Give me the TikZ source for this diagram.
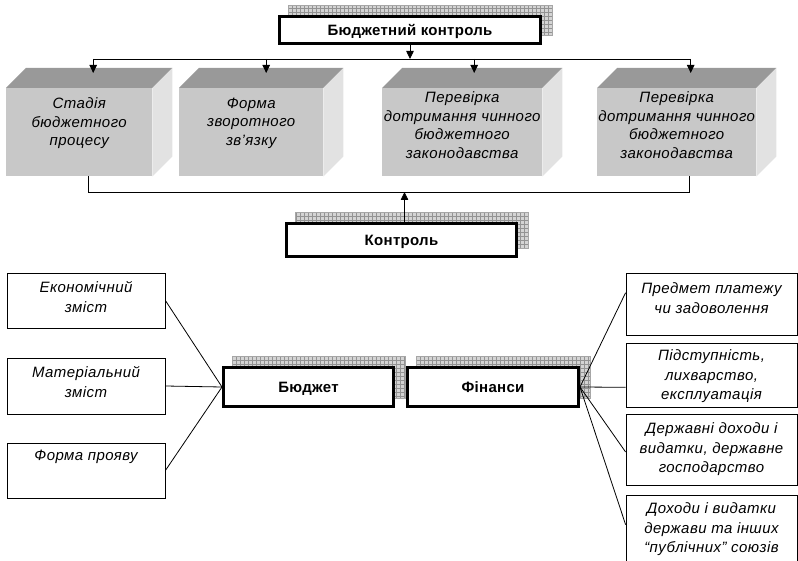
\documentclass[tikz,border=0pt]{standalone}
\usepackage{fontspec}
\setmainfont{Liberation Sans}
\newfontfamily\titlefont[LetterSpace=2]{Liberation Sans}
\newfontfamily\itfont[LetterSpace=3]{Liberation Sans}
\usetikzlibrary{arrows.meta,calc}
\definecolor{frontg}{RGB}{200,200,200}
\definecolor{topg}{RGB}{153,153,153}
\definecolor{sideg}{RGB}{226,226,226}
\definecolor{shadg}{RGB}{212,212,212}
\pgfdeclarelayer{bg}
\pgfsetlayers{bg,main}
\tikzset{
  arr/.style={-{Triangle[length=8pt,width=7.5pt]}, line width=0.8pt},
  conn/.style={line width=0.8pt},
  titlebox/.style={draw, line width=3pt, fill=white, font=\titlefont\fontsize{15}{17}\selectfont\bfseries, inner sep=0pt, text height=10.7pt, text depth=0pt},
  cubefront/.style={fill=frontg, anchor=north west, minimum height=88pt, inner sep=0pt},
  cubetext/.style={align=center, font=\itfont\fontsize{15}{18.5}\selectfont\itshape, inner sep=0pt},
  tbox/.style={draw, line width=0.8pt, inner sep=0pt},
  ttext/.style={align=center, anchor=north, font=\itfont\fontsize{15}{19.5}\selectfont\itshape, inner sep=0pt},
  shadowfill/.style={fill=shadg},
  shadowgrid/.style={draw=gray!85, line width=0.4pt},
}
\newcommand\boxshadow[1]{%
  \begin{pgfonlayer}{bg}
    \fill[shadowfill] ([shift={(10,-10)}]#1.south west) rectangle ([shift={(10,-10)}]#1.north east);
    \begin{scope}
      \clip ([shift={(10,-10)}]#1.south west) rectangle ([shift={(10,-10)}]#1.north east);
      \draw[shadowgrid, step=4pt] ([shift={(10,-10)}]#1.south west) grid ([shift={(10,-10)}]#1.north east);
    \end{scope}
    \draw[gray!70, line width=0.4pt] ([shift={(10,-10)}]#1.south west) rectangle ([shift={(10,-10)}]#1.north east);
  \end{pgfonlayer}}
\newcommand\cubeside[1]{%
  \fill[topg] (#1.north west) -- ++(20,-20) -- ($(#1.north east)+(20,-20)$) -- (#1.north east) -- cycle;
  \fill[sideg] (#1.north east) -- ++(20,-20) -- ($(#1.south east)+(20,-20)$) -- (#1.south east) -- cycle;}
\begin{document}
\begin{tikzpicture}[x=1pt,y=-1pt]
\clip (0,0) rectangle (798,561);
\useasboundingbox (0,0) rectangle (798,561);

% top title
\node[titlebox, minimum width=261pt, minimum height=27pt] (top) at (410,30) {Бюджетний контроль};
\boxshadow{top}

% cubes
\node[cubefront, minimum width=146pt] (c1) at (6,88) {};
\node[cubefront, minimum width=144pt] (c2) at (179,88) {};
\node[cubefront, minimum width=160pt] (c3) at (382,88) {};
\node[cubefront, minimum width=159pt] (c4) at (597,88) {};
\cubeside{c1}\cubeside{c2}\cubeside{c3}\cubeside{c4}
\node[cubetext] (c1t) at ($(c1.center)+(0,-9)$) {Стадія\\бюджетного\\процесу};
\node[cubetext] (c2t) at ($(c2.center)+(0,-9)$) {Форма\\зворотного\\зв’язку};
\node[cubetext] (c3t) at ($(c3.center)+(0,-7)$) {Перевірка\\дотримання чинного\\бюджетного\\законодавства};
\node[cubetext] (c4t) at ($(c4.center)+(0,-7)$) {Перевірка\\дотримання чинного\\бюджетного\\законодавства};

% top bus
\coordinate (bus) at (0,59);
\coordinate (t1) at ([shift={(14,-15)}]c1.north);
\coordinate (t2) at ([shift={(15,-15)}]c2.north);
\coordinate (t3) at ([shift={(12,-15)}]c3.north);
\coordinate (t4) at ([shift={(14,-15)}]c4.north);
\draw[conn] (t1 |- bus) -- (t4 |- bus);
\draw[arr] (top.south) -- (top.south |- bus);
\foreach \t in {t1,t2,t3,t4} \draw[arr] (\t |- bus) -- (\t);

% control
\node[titlebox, minimum width=230pt, minimum height=33pt] (kon) at (401.5,240) {Контроль};
\boxshadow{kon}
\coordinate (bbus) at (0,192);
\coordinate (b1) at ([xshift=9pt]c1.south);
\coordinate (b4) at ([xshift=13pt]c4.south);
\draw[conn] (b1) -- (b1 |- bbus) -- (b4 |- bbus) -- (b4);
\draw[arr] ([xshift=3pt]kon.north) -- ([xshift=3pt]kon.north |- bbus);

% budget and finance
\node[titlebox, minimum width=170pt, minimum height=39pt] (bud) at (308.5,387) {Бюджет};
\node[titlebox, minimum width=171pt, minimum height=39pt] (fin) at (493,387) {Фінанси};
\boxshadow{bud}
\boxshadow{fin}

% left boxes
\node[tbox, minimum width=158pt, minimum height=55pt] (l1) at (86,300.5) {};
\node[tbox, minimum width=158pt, minimum height=56pt] (l2) at (86,386) {};
\node[tbox, minimum width=158pt, minimum height=55pt] (l3) at (86,470.5) {};
\node[ttext] (l1t) at ([yshift=-9pt]l1.north) {Економічний\\зміст};
\node[ttext] (l2t) at ([yshift=-9pt]l2.north) {Матеріальний\\зміст};
\node[ttext] (l3t) at ([yshift=-7pt]l3.north) {Форма прояву};
\foreach \b in {l1,l2,l3} \draw[conn] (\b.east) -- (bud.west);

% right boxes
\node[tbox, minimum width=171pt, minimum height=62pt] (r1) at (711.5,304) {};
\node[tbox, minimum width=171pt, minimum height=64pt] (r2) at (711.5,375) {};
\node[tbox, minimum width=171pt, minimum height=71pt] (r3) at (711.5,449.5) {};
\node[tbox, minimum width=171pt, minimum height=85pt] (r4) at (711.5,537.5) {};
\node[ttext] (r1t) at ([yshift=-10pt]r1.north) {Предмет платежу\\чи задоволення};
\node[ttext] (r2t) at ([yshift=-7pt]r2.north) {Підступність,\\лихварство,\\експлуатація};
\node[ttext] (r3t) at ([yshift=-9pt]r3.north) {Державні доходи і\\видатки, державне\\господарство};
\node[ttext] (r4t) at ([yshift=-8pt]r4.north) {Доходи і видатки\\держави та інших\\“публічних” союзів};
\draw[conn] (fin.east) -- ($(r1.north west)!0.32!(r1.south west)$);
\draw[conn] (fin.east) -- ($(r2.north west)!0.69!(r2.south west)$);
\draw[conn] (fin.east) -- ($(r3.north west)!0.535!(r3.south west)$);
\draw[conn] (fin.east) -- ($(r4.north west)!0.35!(r4.south west)$);
\end{tikzpicture}
\end{document}
